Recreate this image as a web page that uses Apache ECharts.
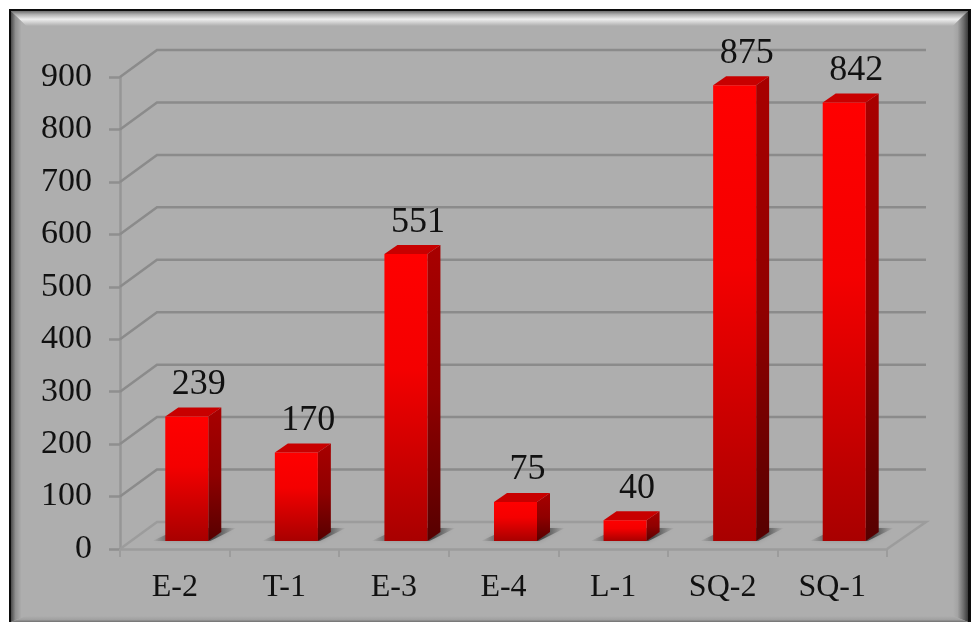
<!DOCTYPE html>
<html>
<head>
<meta charset="utf-8">
<style>html,body{margin:0;padding:0;background:#fff}#c{width:977px;height:622px}</style>
<script src="https://cdn.jsdelivr.net/npm/echarts@6/dist/echarts.min.js"></script>
</head>
<body>
<div id="c"></div>
<script>
const categories = ['E-2', 'T-1', 'E-3', 'E-4', 'L-1', 'SQ-2', 'SQ-1'];
const values = [239, 170, 551, 75, 40, 875, 842];
const yTicks = [0, 100, 200, 300, 400, 500, 600, 700, 800, 900];

const FONT = '"Liberation Serif", serif';
const DEPTH_X = 37, DEPTH_Y = 27;      // wall depth
const BAR_DX = 13, BAR_DY = 9;         // bar depth
const FLOOR_RAISE = 8, BAR_SHIFT = 12, BAR_W = 43, BAR_SCALE = 0.993;
const WALL = '#8b8b8b';

function grad(x, y, x2, y2, stops) {
  return { type: 'linear', x, y, x2, y2, colorStops: stops.map(s => ({ offset: s[0], color: s[1] })) };
}
function poly(points, style, z2) {
  return { type: 'polygon', shape: { points }, style, z2: z2 || 0 };
}

const chart = echarts.init(document.getElementById('c'), null, { renderer: 'canvas' });

const L = 11, T = 11, R = 968, B = 622, BW = 15;
const frame = [
  { type: 'rect', shape: { x: 9, y: 9, width: 962, height: 620 }, style: { fill: '#0c0c0c' } },
  { type: 'rect', shape: { x: L, y: T, width: R - L, height: B - T + 4 }, style: { fill: '#aeaeae' } },
  poly([[L, T], [R, T], [R - BW, T + BW], [L + BW, T + BW]],
    { fill: grad(0, 0, 0, 1, [[0, '#6e6e6e'], [0.25, '#b4b4b4'], [0.55, '#ececec'], [0.75, '#d2d2d2'], [1, '#aeaeae']]) }),
  poly([[L, T], [L + BW, T + BW], [L + BW, B - 6], [L, B]],
    { fill: grad(0, 0, 1, 0, [[0, '#4a4a4a'], [0.3, '#909090'], [0.7, '#aeaeae'], [1, '#aeaeae']]) }),
  poly([[R, T], [R - BW, T + BW], [R - BW, B - 6], [R, B]],
    { fill: grad(0, 0, 1, 0, [[0, '#aeaeae'], [0.3, '#a4a4a4'], [0.7, '#6c6c6c'], [1, '#3a3a3a']]) }),
  poly([[L + BW, B - 6], [R - BW, B - 6], [R, B], [L, B]],
    { fill: grad(0, 0, 0, 1, [[0, '#aeaeae'], [0.6, '#a0a0a0'], [1, '#707070']]) })
];

function renderWall(params, api) {
  const v = api.value(0);
  const cs = params.coordSys;
  const y = api.coord([0, v])[1];
  const left = cs.x, right = cs.x + cs.width;
  const line = v === 0
    ? [[left, y], [left + DEPTH_X, y - DEPTH_Y], [right + DEPTH_X + 2, y - DEPTH_Y], [right, y]]
    : [[left, y], [left + DEPTH_X, y - DEPTH_Y], [right + DEPTH_X + 2, y - DEPTH_Y]];
  return {
    type: 'polyline',
    shape: { points: line },
    style: { stroke: v === 0 ? '#9c9c9c' : WALL, lineWidth: 2.5, fill: null }
  };
}

function renderBar(params, api) {
  const idx = api.value(0), v = api.value(1);
  const p0 = api.coord([idx, 0]), pv = api.coord([idx, v]);
  const band = api.size([1, 0])[0];
  const cx = p0[0] + BAR_SHIFT * band / 109.6;
  const x0 = cx - BAR_W / 2, x1 = cx + BAR_W / 2;
  const yb = p0[1] - FLOOR_RAISE;
  const yt = yb - (p0[1] - pv[1]) * BAR_SCALE;
  return {
    type: 'group',
    children: [
      poly([[x0 - 13, yb], [x1 + 2, yb], [x1 + 28, yb - 13], [x0 + 15, yb - 13]],
        { fill: grad(0, 0, 1, 0, [[0, 'rgba(60,60,60,0)'], [0.2, 'rgba(60,60,60,0.55)'], [0.75, 'rgba(50,50,50,0.75)'], [1, 'rgba(60,60,60,0)']]),
          shadowBlur: 4, shadowColor: 'rgba(60,60,60,0.35)' }, 0),
      poly([[x1, yt], [x1 + BAR_DX, yt - BAR_DY], [x1 + BAR_DX, yb - BAR_DY], [x1, yb]],
        { fill: grad(0, 0, 0, 1, [[0, '#a80000'], [0.5, '#900000'], [1, '#560000']]) }, 1),
      poly([[x0, yt], [x1, yt], [x1 + BAR_DX, yt - BAR_DY], [x0 + BAR_DX, yt - BAR_DY]],
        { fill: '#c80000' }, 1),
      {
        type: 'rect', shape: { x: x0, y: yt, width: BAR_W, height: yb - yt }, z2: 2,
        style: { fill: grad(0, 0, 0, 1, [[0, '#ff0000'], [0.4, '#f40000'], [1, '#a80000']]) }
      },
      {
        type: 'text', z2: 3,
        style: {
          text: String(v), x: cx + 12, y: yt - 32, align: 'center', verticalAlign: 'middle',
          font: '36px ' + FONT, fill: '#111'
        }
      }
    ]
  };
}

chart.setOption({
  animation: false,
  backgroundColor: '#ffffff',
  graphic: { elements: frame.map(e => Object.assign({ silent: true, z: -10 }, e)) },
  grid: { left: 120, top: 77, width: 767, height: 472, containLabel: false },
  xAxis: {
    type: 'category', data: categories,
    axisLine: { lineStyle: { color: '#9c9c9c', width: 2.5 } },
    axisTick: { show: true, length: 8, lineStyle: { color: '#9c9c9c', width: 2 } },
    axisLabel: { color: '#111', fontFamily: FONT, fontSize: 32, margin: 23, interval: 0 },
    splitLine: { show: false }
  },
  yAxis: {
    type: 'value', min: 0, max: 900, interval: 100,
    axisLine: { show: true, lineStyle: { color: '#969696', width: 2.5 } },
    axisTick: { show: true, length: 11, lineStyle: { color: '#8f8f8f', width: 2.5 } },
    axisLabel: { color: '#111', fontFamily: FONT, fontSize: 34, margin: 28, padding: [4, 0, 0, 0] },
    splitLine: { show: false }
  },
  series: [
    {
      type: 'custom', z: 1, silent: true, clip: false,
      coordinateSystem: 'cartesian2d',
      renderItem: renderWall,
      encode: { y: 0 },
      data: yTicks.map(v => [v])
    },
    {
      type: 'custom', z: 3, clip: false,
      coordinateSystem: 'cartesian2d',
      renderItem: renderBar,
      encode: { x: 0, y: 1 },
      data: values.map((v, i) => [i, v])
    }
  ]
});
</script>
</body>
</html>
